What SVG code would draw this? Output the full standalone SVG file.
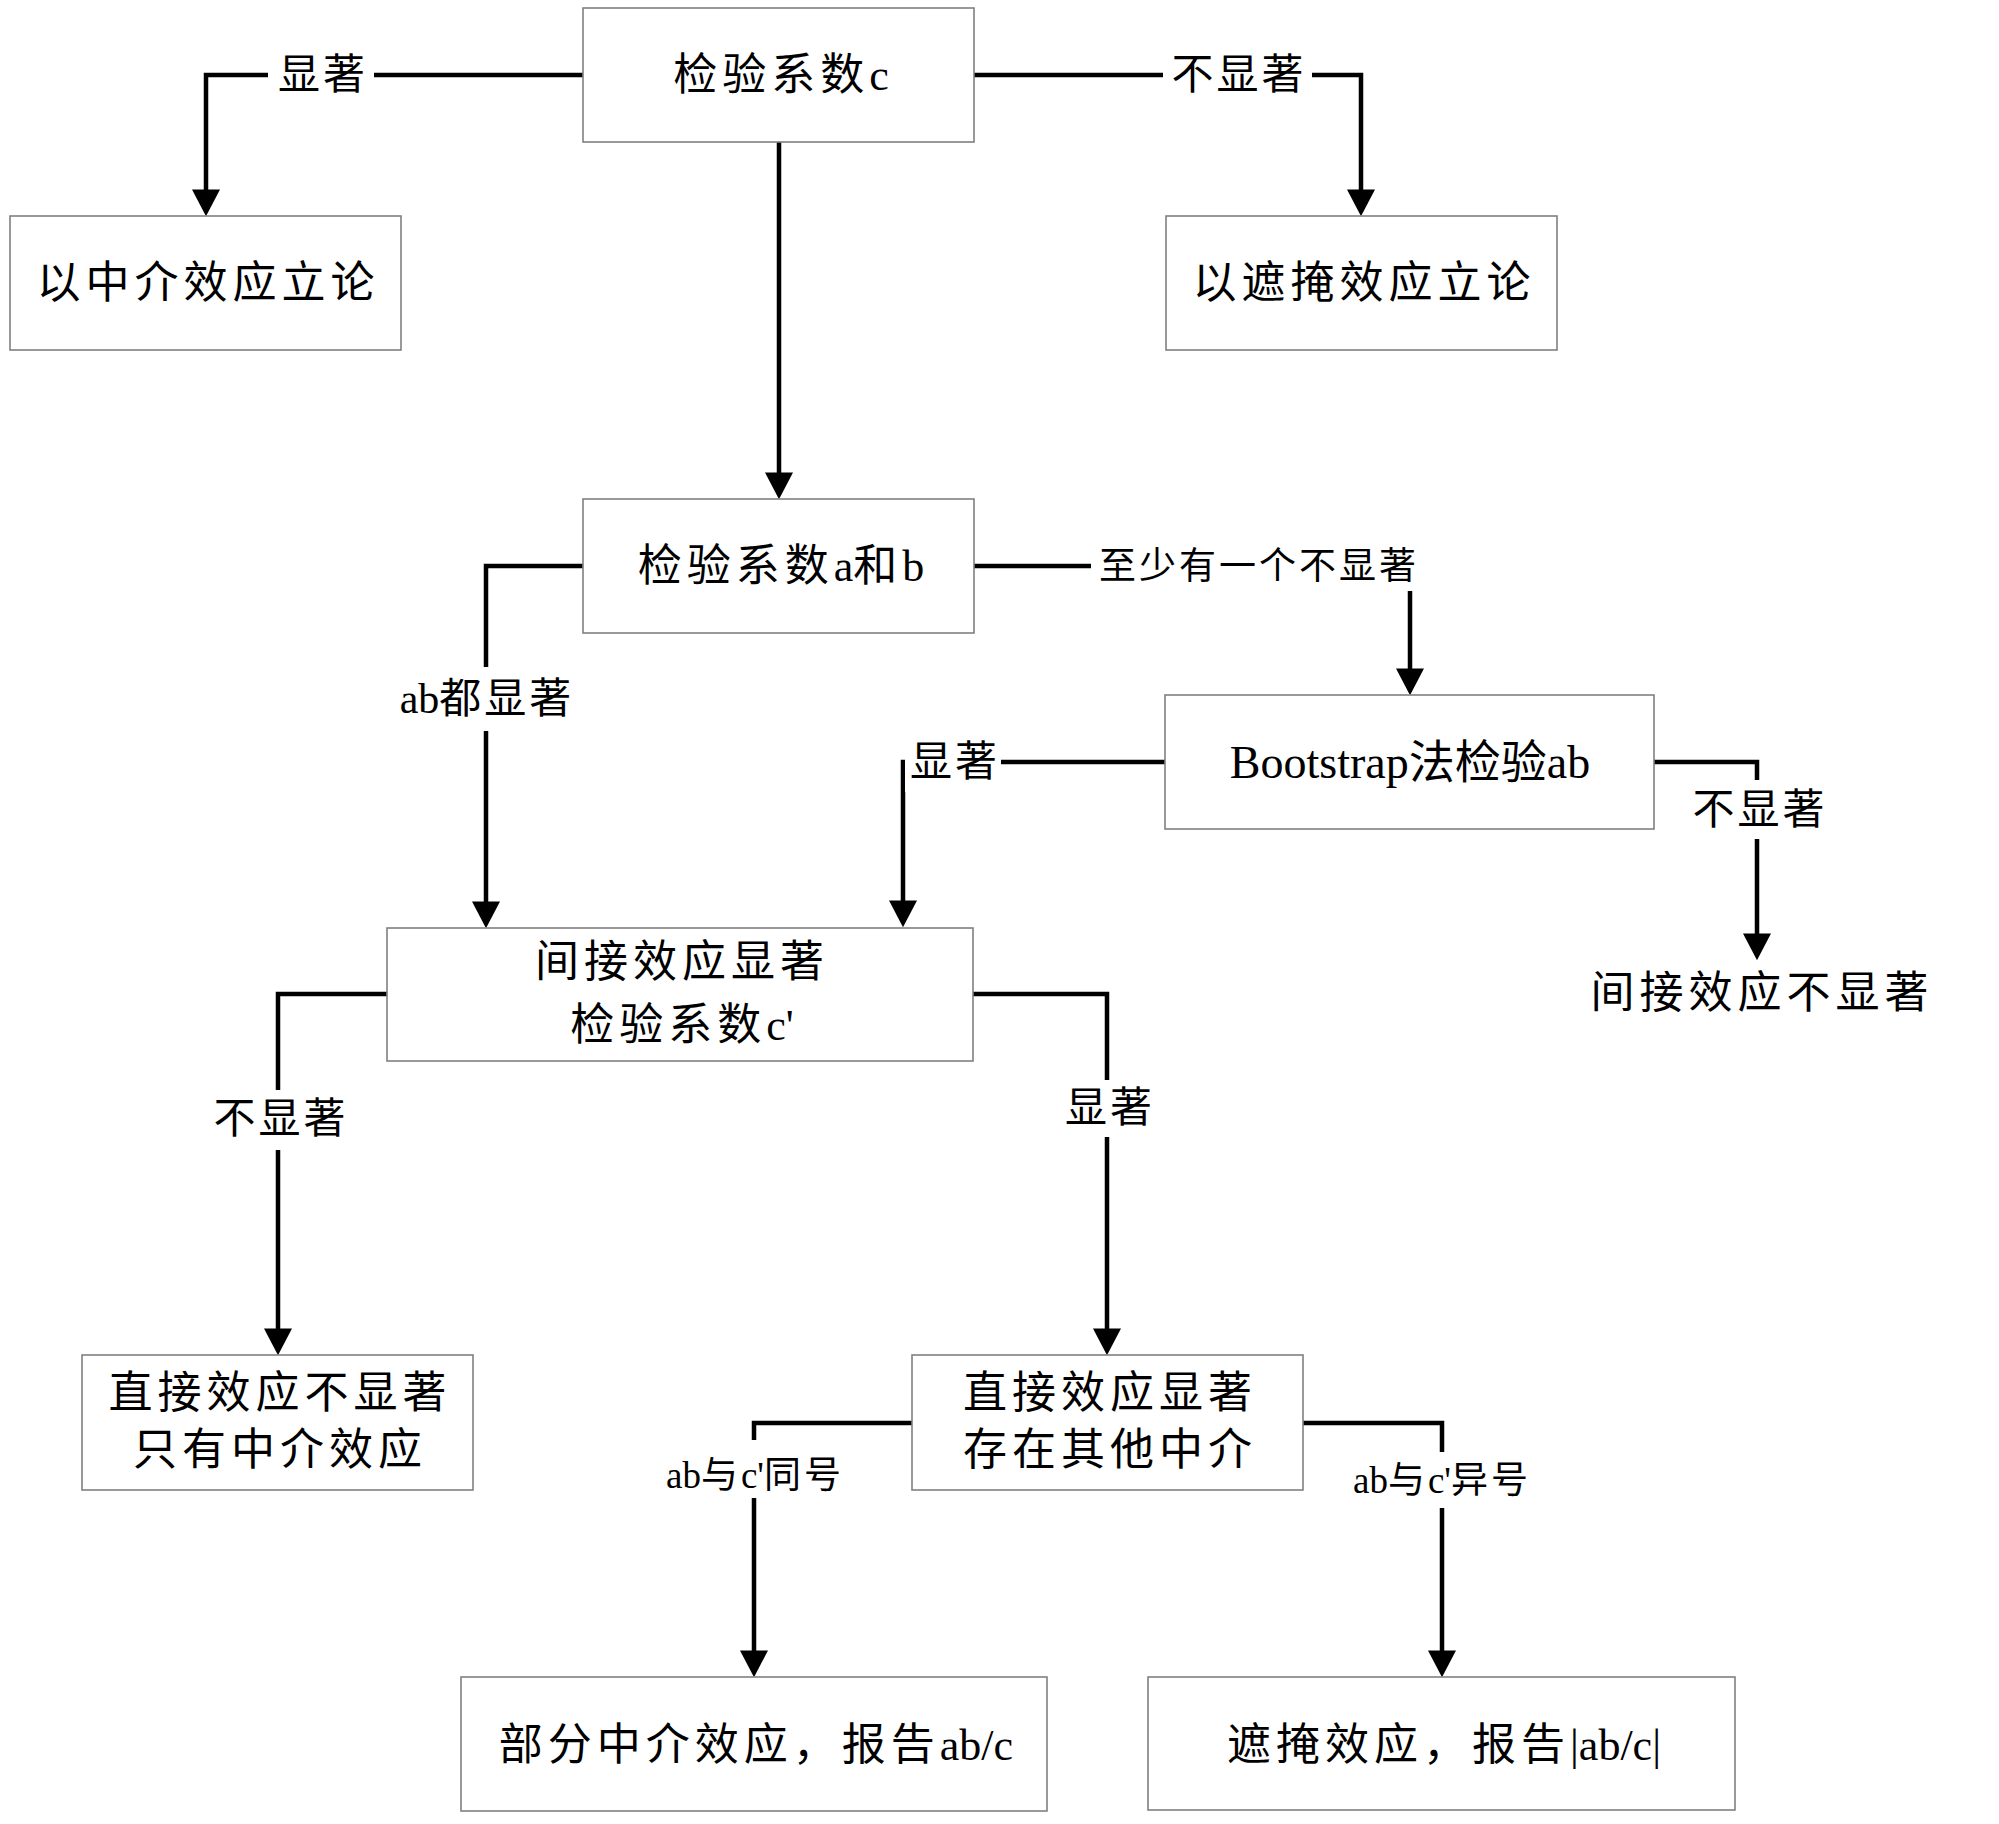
<svg xmlns="http://www.w3.org/2000/svg" width="1999" height="1824" viewBox="0 0 1999 1824">
<style>
.box{fill:#fff;stroke:#808080;stroke-width:1.6}
.t{font-family:"Liberation Serif","Noto Sans CJK SC",serif;font-size:44px;letter-spacing:5px;text-anchor:middle;dominant-baseline:central;fill:#000}
.tight{font-size:46px;letter-spacing:0}
.lbl{font-family:"Liberation Serif","Noto Sans CJK SC",serif;font-size:42px;letter-spacing:3px;text-anchor:middle;dominant-baseline:central;fill:#000}
.sm{font-size:37px}
.l{letter-spacing:0}
.edge{fill:none;stroke:#000;stroke-width:4.5;marker-end:url(#arr)}
.bg{fill:#fff}
</style>
<defs>
<marker id="arr" markerUnits="userSpaceOnUse" markerWidth="28" markerHeight="28" viewBox="0 0 27 27" refX="16" refY="13.5" orient="auto">
<path d="M0,0 L26,13.5 L0,27 z" fill="#000"/>
</marker>
</defs>
<rect width="1999" height="1824" fill="#fff"/>

<g id="connectors">
<path class="edge" d="M583,75 H206 V206"/>
<path class="edge" d="M974,75 H1361 V206"/>
<path class="edge" d="M779,142 V489"/>
<path class="edge" d="M974,566 H1410 V685"/>
<path class="edge" d="M583,566 H486 V918"/>
<path class="edge" d="M1165,762 H903 V917"/>
<path class="edge" d="M1654,762 H1757 V950"/>
<path class="edge" d="M387,994 H278 V1345"/>
<path class="edge" d="M973,994 H1107 V1345"/>
<path class="edge" d="M912,1423 H754 V1667"/>
<path class="edge" d="M1303,1423 H1442 V1667"/>
</g>

<g id="labels">
<rect class="bg" x="268" y="52" width="106" height="46"/>
<text class="lbl" x="323" y="75">显著</text>
<rect class="bg" x="1163" y="52" width="149" height="46"/>
<text class="lbl" x="1239" y="75">不显著</text>
<rect class="bg" x="1091" y="541" width="333" height="50"/>
<text class="lbl sm" x="1259" y="566">至少有一个不显著</text>
<rect class="bg" x="390" y="667" width="192" height="64"/>
<text class="lbl" x="487" y="699"><tspan class="l">ab</tspan>都显著</text>
<rect class="bg" x="905" y="738" width="96" height="54"/>
<text class="lbl" x="955" y="762">显著</text>
<rect class="bg" x="1688" y="780" width="140" height="59"/>
<text class="lbl" x="1760" y="810">不显著</text>
<rect class="bg" x="208" y="1090" width="142" height="60"/>
<text class="lbl" x="281" y="1119">不显著</text>
<rect class="bg" x="1062" y="1080" width="94" height="57"/>
<text class="lbl" x="1110" y="1108">显著</text>
<rect class="bg" x="656" y="1440" width="194" height="58"/>
<text class="lbl sm" x="755" y="1475"><tspan class="l">ab</tspan>与<tspan class="l">c'</tspan>同号</text>
<rect class="bg" x="1343" y="1452" width="194" height="56"/>
<text class="lbl sm" x="1442" y="1480"><tspan class="l">ab</tspan>与<tspan class="l">c'</tspan>异号</text>
</g>

<g id="node-c">
<rect class="box" x="583" y="8" width="391" height="134"/>
<text class="t" x="781" y="75">检验系数<tspan class="l">c</tspan></text>
</g>
<g id="node-mediation">
<rect class="box" x="10" y="216" width="391" height="134"/>
<text class="t" x="208" y="283">以中介效应立论</text>
</g>
<g id="node-masking">
<rect class="box" x="1166" y="216" width="391" height="134"/>
<text class="t" x="1364" y="283">以遮掩效应立论</text>
</g>
<g id="node-ab">
<rect class="box" x="583" y="499" width="391" height="134"/>
<text class="t" x="781" y="566">检验系数<tspan class="l">a</tspan>和<tspan class="l">b</tspan></text>
</g>
<g id="node-bootstrap">
<rect class="box" x="1165" y="695" width="489" height="134"/>
<text class="t tight" x="1410" y="762">Bootstrap法检验ab</text>
</g>
<g id="node-indirect">
<rect class="box" x="387" y="928" width="586" height="133"/>
<text class="t" x="682" y="962">间接效应显著</text>
<text class="t" x="682" y="1025">检验系数<tspan class="l">c'</tspan></text>
</g>
<g id="node-indirect-ns">
<text class="t" x="1762" y="993">间接效应不显著</text>
</g>
<g id="node-direct-ns">
<rect class="box" x="82" y="1355" width="391" height="135"/>
<text class="t" x="280" y="1393">直接效应不显著</text>
<text class="t" x="280" y="1450">只有中介效应</text>
</g>
<g id="node-direct-s">
<rect class="box" x="912" y="1355" width="391" height="135"/>
<text class="t" x="1110" y="1393">直接效应显著</text>
<text class="t" x="1110" y="1450">存在其他中介</text>
</g>
<g id="node-partial">
<rect class="box" x="461" y="1677" width="586" height="134"/>
<text class="t" x="756" y="1745">部分中介效应，报告<tspan class="l">ab/c</tspan></text>
</g>
<g id="node-mask-result">
<rect class="box" x="1148" y="1677" width="587" height="133"/>
<text class="t" x="1444" y="1745">遮掩效应，报告<tspan class="l">|ab/c|</tspan></text>
</g>
</svg>
